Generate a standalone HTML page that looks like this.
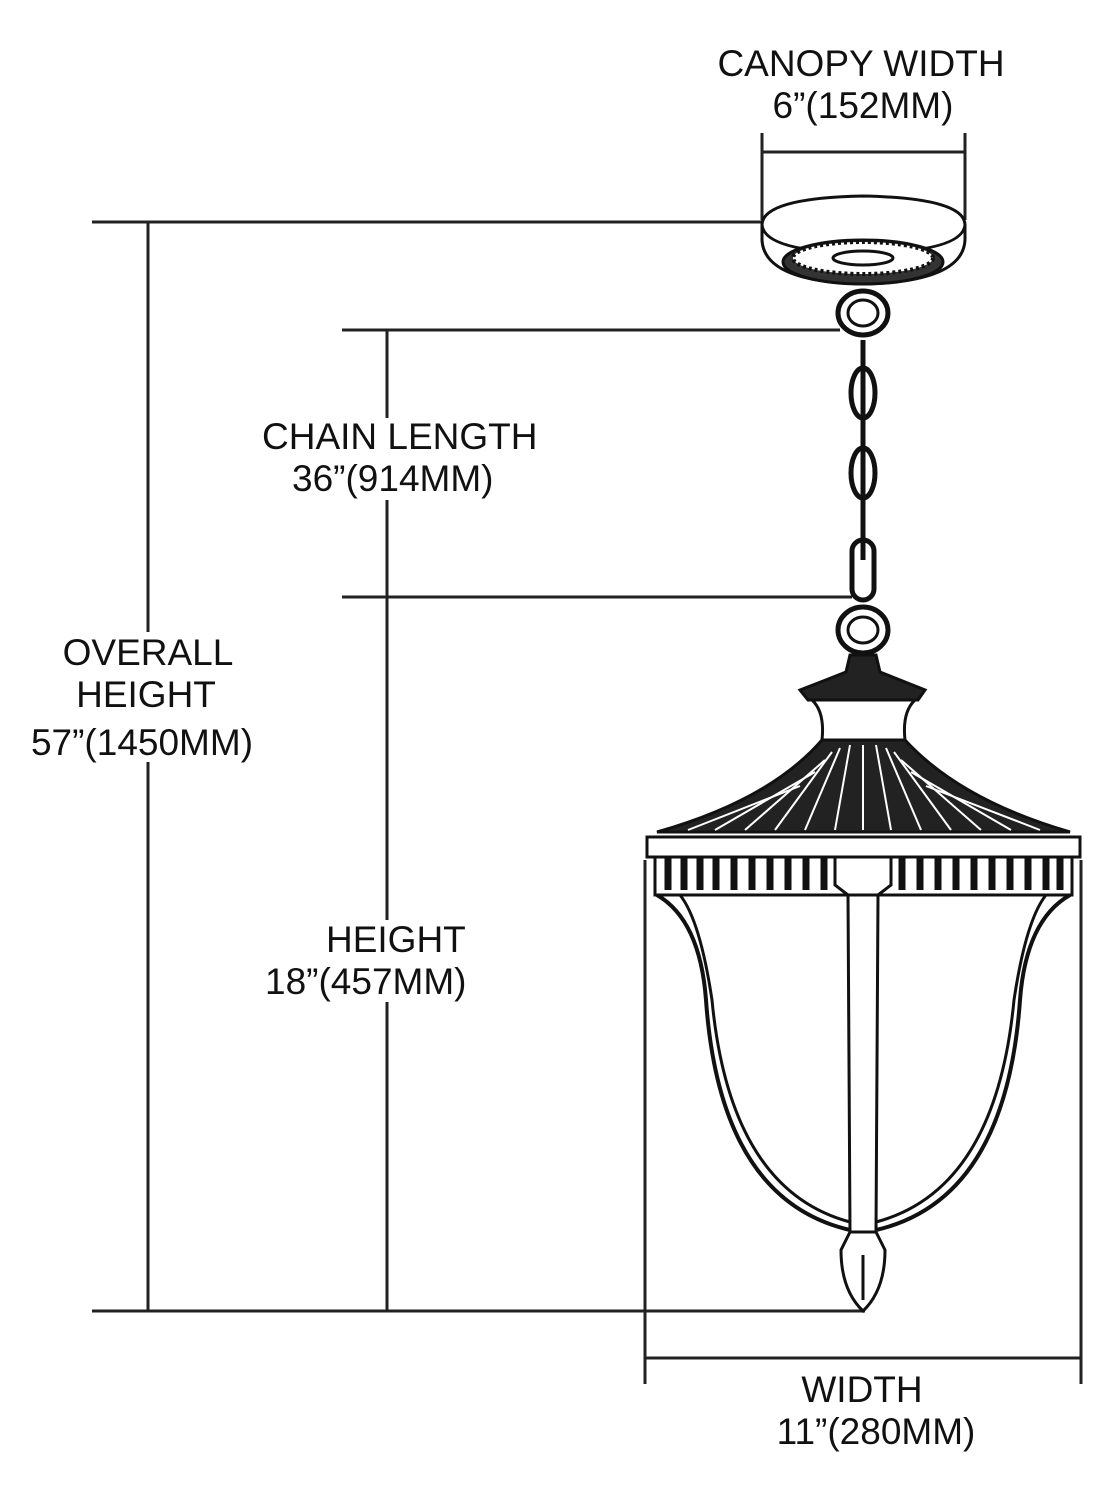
<!DOCTYPE html>
<html><head><style>
body{margin:0;background:#fff}
svg text{font-family:"Liberation Sans",sans-serif;font-size:37px;fill:#111}
</style></head><body>
<svg width="1114" height="1500" viewBox="0 0 1114 1500" xmlns="http://www.w3.org/2000/svg">
<g stroke="#222" stroke-width="3" fill="none">
<line x1="762" y1="133" x2="762" y2="220"/><line x1="965" y1="133" x2="965" y2="220"/>
<line x1="762" y1="152" x2="965" y2="152"/>
<line x1="92" y1="222" x2="762" y2="222"/><line x1="148" y1="222" x2="148" y2="1311"/>
<line x1="92" y1="1311" x2="865" y2="1311"/>
<line x1="342" y1="330" x2="840" y2="330"/><line x1="387" y1="330" x2="387" y2="1311"/>
<line x1="342" y1="597" x2="852" y2="597"/>
<line x1="645" y1="860" x2="645" y2="1384"/><line x1="1081" y1="860" x2="1081" y2="1384"/>
<line x1="645" y1="1358" x2="1081" y2="1358"/>
</g>
<g fill="#fff">
<rect x="255" y="418" width="290" height="82"/>
<rect x="28" y="632" width="232" height="130"/>
<rect x="262" y="920" width="210" height="82"/>
</g>
<g stroke="#111" stroke-width="3" fill="#fff">
<!-- canopy -->
<path d="M762 225 Q762 198 863 196 Q965 198 965 225 L965 240 Q963 282 863 284 Q764 282 762 240 Z"/>
<path d="M762 225 Q765 252 863 253 Q962 252 965 225" fill="none"/>
<ellipse cx="863" cy="262" rx="80" ry="22" fill="#333"/>
<ellipse cx="863" cy="258" rx="70" ry="16" fill="#fff" stroke-dasharray="3 3" stroke-width="4"/>
<ellipse cx="863" cy="258" rx="30" ry="7"/>
<!-- rings & chain -->
<ellipse cx="863" cy="313" rx="25" ry="22" stroke-width="5"/>
<ellipse cx="863" cy="313" rx="15" ry="13"/>
<ellipse cx="863" cy="393" rx="12" ry="25" stroke-width="5"/>
<ellipse cx="863" cy="473" rx="12" ry="25" stroke-width="5"/>
<rect x="852" y="540" width="22" height="60" rx="11" stroke-width="5"/>
<line x1="863" y1="340" x2="863" y2="560" stroke-width="5"/>
<ellipse cx="863" cy="630" rx="25" ry="23" stroke-width="5"/>
<ellipse cx="863" cy="630" rx="15" ry="13"/>
<!-- top cap -->
<path d="M850 655 L876 655 L880 672 Q900 680 925 690 L918 700 L808 700 L800 690 Q826 680 846 672 Z" fill="#222"/>
<path d="M812 700 L915 700 Q902 712 905 740 L822 740 Q825 712 812 700 Z"/>
<!-- roof -->
<path d="M822 740 L905 740 Q960 800 1070 832 L657 832 Q770 800 822 740 Z" fill="#222"/>
<g stroke="#fff" stroke-width="2">
<line x1="863" y1="745" x2="863" y2="830"/><line x1="850" y1="745" x2="835" y2="830"/><line x1="876" y1="745" x2="891" y2="830"/>
<line x1="840" y1="748" x2="805" y2="830"/><line x1="886" y1="748" x2="921" y2="830"/>
<line x1="832" y1="752" x2="775" y2="830"/><line x1="894" y1="752" x2="951" y2="830"/>
<line x1="825" y1="760" x2="745" y2="830"/><line x1="901" y1="760" x2="981" y2="830"/>
<line x1="815" y1="772" x2="715" y2="830"/><line x1="911" y1="772" x2="1011" y2="830"/>
<line x1="800" y1="786" x2="688" y2="830"/><line x1="926" y1="786" x2="1040" y2="830"/>
</g>
<rect x="647" y="837" width="433" height="20"/>
<rect x="655" y="857" width="417" height="38" fill="#fff"/>
<g stroke="#111" stroke-width="7">
<path d="M668 857 V890 M684 857 V890 M700 857 V890 M716 857 V890 M734 857 V890 M752 857 V890 M770 857 V890 M788 857 V890 M806 857 V890 M824 857 V890 M902 857 V890 M920 857 V890 M938 857 V890 M956 857 V890 M974 857 V890 M992 857 V890 M1010 857 V890 M1028 857 V890 M1046 857 V890 M1060 857 V890"/>
</g>
<path d="M835 857 L891 857 L891 885 L878 895 L848 895 L835 885 Z"/>
<!-- bowl -->
<path d="M657 895 Q700 920 706 1000 Q720 1200 850 1230 L876 1230 Q1006 1200 1020 1000 Q1026 920 1070 895" fill="none" stroke-width="4"/>
<path d="M680 895 Q700 920 712 1000 Q730 1190 850 1222 M1046 895 Q1026 920 1014 1000 Q996 1190 876 1222" fill="none"/>
<path d="M848 895 L878 895 L876 1232 L850 1232 Z"/>
<path d="M850 1232 L876 1232 L885 1250 Q885 1290 863 1311 Q841 1290 841 1250 Z"/>
<line x1="863" y1="1255" x2="863" y2="1300"/>
</g>
<text x="861" y="76" text-anchor="middle">CANOPY WIDTH</text>
<text x="863" y="118" text-anchor="middle">6”(152MM)</text>
<text x="262" y="449">CHAIN LENGTH</text>
<text x="292" y="491">36”(914MM)</text>
<text x="148" y="665" text-anchor="middle">OVERALL</text>
<text x="146" y="707" text-anchor="middle">HEIGHT</text>
<text x="142" y="755" text-anchor="middle">57”(1450MM)</text>
<text x="326" y="952">HEIGHT</text>
<text x="265" y="994">18”(457MM)</text>
<text x="862" y="1402" text-anchor="middle">WIDTH</text>
<text x="876" y="1444" text-anchor="middle">11”(280MM)</text>
</svg>
</body></html>
